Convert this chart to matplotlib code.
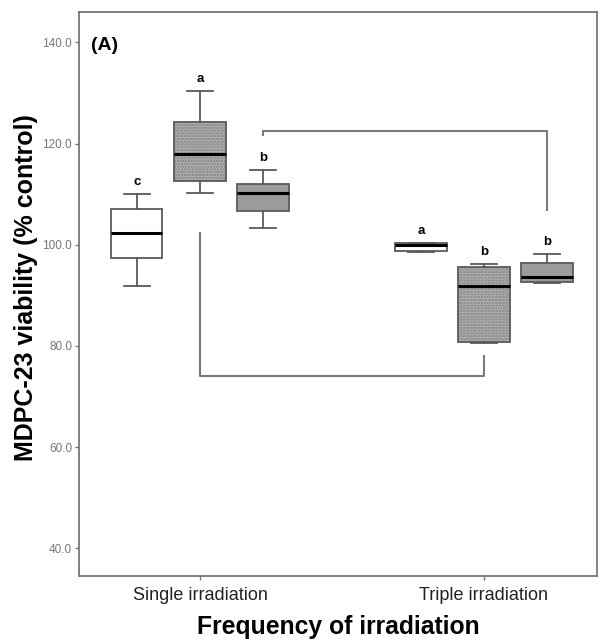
import matplotlib
matplotlib.use("Agg")
import matplotlib.pyplot as plt

plt.rcParams['font.family'] = ['Liberation Sans', 'DejaVu Sans']
plt.rcParams['hatch.linewidth'] = 1.2

groups = ["Single irradiation", "Triple irradiation"]
series_offsets = [-0.222, 0.0, 0.222]

# box stats per series, [single, triple]
whishi = [[110.0, 130.3, 114.8], [100.4, 96.2, 98.2]]
q3 = [[107.1, 124.3, 112.0], [100.4, 95.6, 96.4]]
med = [[102.3, 118.0, 110.3], [100.0, 91.9, 93.6]]
q1 = [[97.3, 112.5, 106.6], [98.8, 80.7, 92.7]]
whislo = [[91.9, 110.3, 103.3], [98.5, 80.5, 92.4]]
letters = [["c", "a", "b"], ["a", "b", "b"]]

face_colors = ["white", "#b8b8b8", "#9c9c9c"]
hatches = [None, "......", None]

# brackets: (x1, x2, y_left_end, y_right_end, y_bar)
top_bracket = [(0, 2), (1, 2), 121.6, 106.9, 122.4]
bottom_bracket = [(0, 1), (1, 1), 102.3, 77.9, 74.1]

fig = plt.figure(figsize=(6.01, 6.40), dpi=100)
ax = fig.add_axes([0.1314, 0.1, 0.862, 0.88125])

edge = "#5a5a5a"
for g in range(len(groups)):
    for s in range(3):
        stats = [dict(med=med[g][s], q1=q1[g][s], q3=q3[g][s],
                      whislo=whislo[g][s], whishi=whishi[g][s], fliers=[])]
        pos = g + series_offsets[s]
        bp = ax.bxp(stats, positions=[pos], widths=0.18, patch_artist=True,
                    boxprops=dict(facecolor=face_colors[s], edgecolor=edge, linewidth=1.3),
                    medianprops=dict(color="black", linewidth=2.2),
                    whiskerprops=dict(color=edge, linewidth=1.3),
                    capprops=dict(color=edge, linewidth=1.3),
                    manage_ticks=False)
        if hatches[s]:
            bp['boxes'][0].set_hatch(hatches[s])
            bp['boxes'][0]._hatch_color = matplotlib.colors.to_rgba("#7a7a7a")
        ax.text(pos, whishi[g][s] + 1.2, letters[g][s], ha="center", va="bottom",
                fontsize=9.5, fontweight="bold")

def draw_bracket(b):
    (g1, s1), (g2, s2), y1, y2, yb = b
    x1 = g1 + series_offsets[s1]
    x2 = g2 + series_offsets[s2]
    ax.plot([x1, x1, x2, x2], [y1, yb, yb, y2], color="#7a7a7a", linewidth=1.5)

draw_bracket(top_bracket)
draw_bracket(bottom_bracket)

ax.set_xlim(-0.426, 1.398)
ax.set_ylim(34.5, 146.0)
ax.set_xticks([0, 1])
ax.set_xticklabels(groups, fontsize=13, color="#222222")
ax.set_yticks([40, 60, 80, 100, 120, 140])
ax.set_yticklabels(["40.0", "60.0", "80.0", "100.0", "120.0", "140.0"], fontsize=8.5, color="#777777")
ax.tick_params(axis="both", direction="out", length=3, color="#777777", width=1)
ax.tick_params(axis="x", pad=5)
ax.tick_params(axis="y", pad=2)
for sp in ax.spines.values():
    sp.set_color("#777777")
    sp.set_linewidth(1.3)

ax.set_ylabel("MDPC-23 viability (% control)", fontsize=18, fontweight="bold", labelpad=7)
ax.yaxis.set_label_coords(-0.08, 0.512)
ax.set_xlabel("Frequency of irradiation", fontsize=17.8, fontweight="bold", labelpad=8)
ax.text(0.024, 0.932, "(A)", transform=ax.transAxes, fontsize=14, fontweight="bold")

fig.savefig("out.png", dpi=100)
